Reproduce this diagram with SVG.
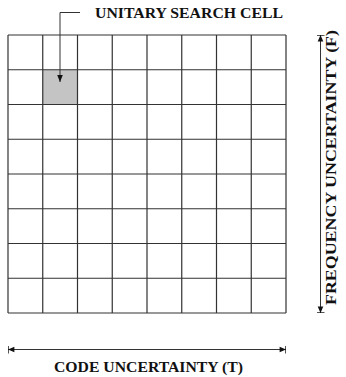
<svg xmlns="http://www.w3.org/2000/svg" width="346" height="377" viewBox="0 0 346 377">
<style>
.grid{stroke:#333;stroke-width:1.2;fill:none}
.conn{stroke:#333;stroke-width:1;fill:none}
.lbl{font-family:"Liberation Serif",serif;font-weight:bold;fill:#111}
</style>
<defs>
<marker id="ah" viewBox="0 0 10 10" refX="10" refY="5" markerWidth="7" markerHeight="7" orient="auto" markerUnits="userSpaceOnUse">
<path d="M0,1 L10,5 L0,9 Z" fill="#111"/>
</marker>
<marker id="ahb" viewBox="0 0 10 10" refX="10" refY="5" markerWidth="8" markerHeight="8" orient="auto-start-reverse" markerUnits="userSpaceOnUse">
<path d="M2,1.5 L10,5 L2,8.5 Z" fill="#111"/>
<path d="M10,0 V10" stroke="#111" stroke-width="1.8"/>
</marker>
</defs>
<rect width="346" height="377" fill="#fff"/>
<g id="grid">
<rect id="cell" x="42.75" y="69.75" width="34.75" height="34.75" fill="#c4c4c4"/>
<path class="grid" d="M8,35H286M8,69.75H286M8,104.5H286M8,139.25H286M8,174H286M8,208.75H286M8,243.5H286M8,278.25H286M8,313H286
M8,35V313M42.75,35V313M77.5,35V313M112.25,35V313M147,35V313M181.75,35V313M216.5,35V313M251.25,35V313M286,35V313"/>
</g>
<g id="connectors">
<path class="conn" d="M80,12.5H60V82" marker-end="url(#ah)"/>
<path class="conn" d="M320.5,35V313" marker-start="url(#ahb)" marker-end="url(#ahb)"/>
<path class="conn" d="M8,349.5H286" marker-start="url(#ahb)" marker-end="url(#ahb)"/>
</g>
<g id="label-cell"><text class="lbl" x="95" y="17.5" font-size="14" textLength="188" lengthAdjust="spacingAndGlyphs">UNITARY SEARCH CELL</text></g>
<g id="label-f"><text class="lbl" transform="translate(336,305) rotate(-90)" font-size="14" textLength="275" lengthAdjust="spacingAndGlyphs">FREQUENCY UNCERTAINTY (F)</text></g>
<g id="label-t"><text class="lbl" x="54" y="371.5" font-size="15" textLength="189" lengthAdjust="spacingAndGlyphs">CODE UNCERTAINTY (T)</text></g>
</svg>
